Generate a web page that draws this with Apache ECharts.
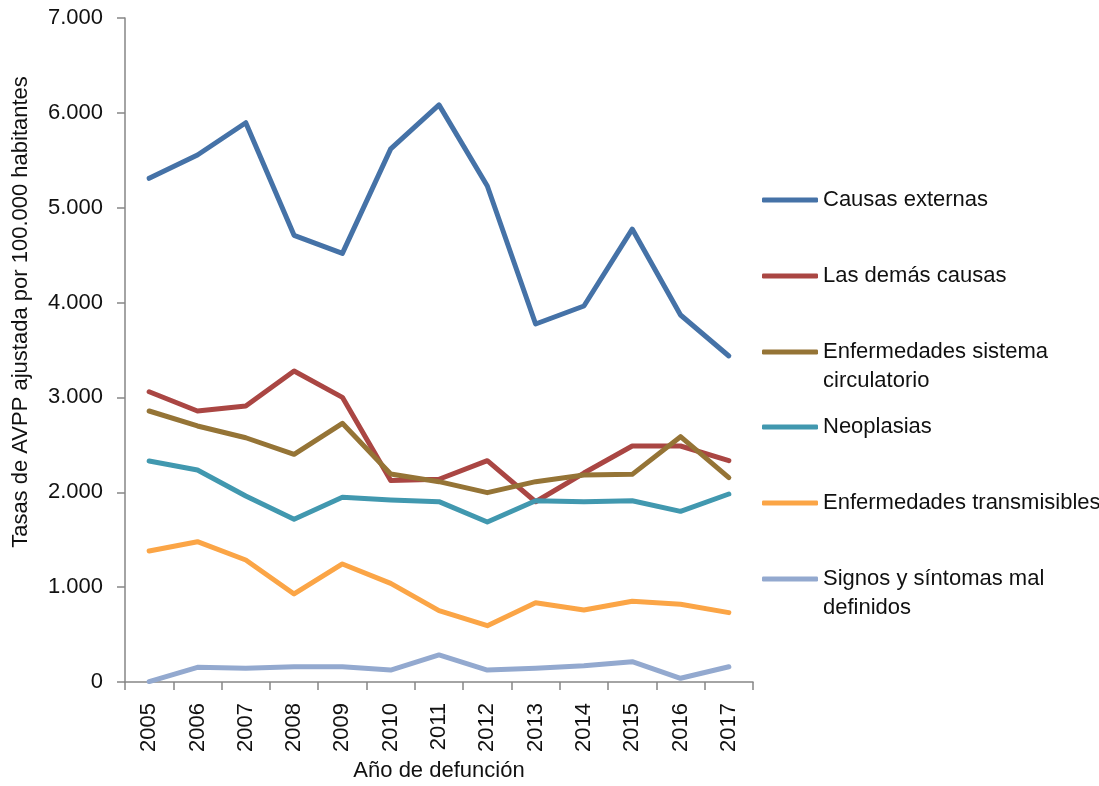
<!DOCTYPE html>
<html>
<head>
<meta charset="utf-8">
<script src="https://cdn.jsdelivr.net/npm/echarts@6/dist/echarts.min.js"></script>
<style>
  html, body { margin: 0; padding: 0; background: #fff; }
  #chart { width: 1099px; height: 786px; }
</style>
</head>
<body>
<div id="chart"></div>
<script>
var years = ["2005", "2006", "2007", "2008", "2009", "2010", "2011", "2012", "2013", "2014", "2015", "2016", "2017"];

var causasExternas = [5310, 5556, 5896, 4709, 4519, 5620, 6084, 5229, 3774, 3964, 4775, 3869, 3437];
var lasDemasCausas = [3060, 2857, 2910, 3278, 3001, 2125, 2137, 2333, 1900, 2203, 2488, 2488, 2333];
var sistemaCirculatorio = [2857, 2699, 2575, 2400, 2727, 2193, 2112, 1996, 2112, 2182, 2189, 2586, 2154];
var neoplasias = [2330, 2235, 1961, 1715, 1947, 1919, 1901, 1687, 1911, 1901, 1911, 1799, 1982];
var transmisibles = [1381, 1479, 1286, 928, 1244, 1040, 752, 594, 836, 759, 851, 819, 731];
var signos = [5, 155, 144, 161, 161, 126, 285, 126, 144, 172, 214, 39, 161];

var seriesNames = [
    "Causas externas",
    "Las demás causas",
    "Enfermedades sistema\ncirculatorio",
    "Neoplasias",
    "Enfermedades transmisibles",
    "Signos y síntomas mal\ndefinidos"
];
var seriesData = [causasExternas, lasDemasCausas, sistemaCirculatorio, neoplasias, transmisibles, signos];
var colors = ["#4572A7", "#AA4643", "#957436", "#4198AF", "#FBA546", "#93A9CF"];

var font = "'Liberation Sans', Arial, sans-serif";
var fontSize = 22;
var axisColor = "#868686";

// legend centres (y of the icon)
var legendCenters = [200, 276, 352, 427, 503, 579];

var legends = seriesNames.map(function (name, i) {
    var twoLines = name.indexOf("\n") >= 0;
    return {
        data: [name],
        left: 762,
        top: twoLines ? legendCenters[i] - 43.5 : legendCenters[i] - 14.5,
        padding: 0,
        icon: "roundRect",
        itemWidth: 56,
        itemHeight: 5,
        itemGap: 0,
        selectedMode: false,
        // empty first line so the first text line sits on the icon
        formatter: function (n) { return n.indexOf("\n") >= 0 ? "\n" + n : n; },
        textStyle: {
            fontFamily: font,
            fontSize: fontSize,
            color: "#111",
            lineHeight: 29
        }
    };
});

var chart = echarts.init(document.getElementById("chart"));
var option = {
    animation: false,
    color: colors,
    grid: { left: 125, right: 346, top: 18, bottom: 104, containLabel: false, outerBoundsMode: "none" },
    legend: legends,
    xAxis: {
        type: "category",
        data: years,
        boundaryGap: true,
        name: "Año de defunción",
        nameLocation: "middle",
        nameGap: 78,
        nameTextStyle: { fontFamily: font, fontSize: fontSize, color: "#111" },
        axisLine: { lineStyle: { color: axisColor, width: 1.5 } },
        axisTick: { show: true, interval: 0, length: 8, lineStyle: { color: axisColor, width: 1.5 } },
        axisLabel: { rotate: 90, interval: 0, margin: 21, fontFamily: font, fontSize: fontSize, color: "#111" },
        splitLine: { show: false }
    },
    yAxis: {
        type: "value",
        min: 0,
        max: 7000,
        interval: 1000,
        axisLine: { show: true, lineStyle: { color: axisColor, width: 1.5 } },
        axisTick: { show: true, length: 8, lineStyle: { color: axisColor, width: 1.5 } },
        axisLabel: {
            margin: 22,
            fontFamily: font,
            fontSize: fontSize,
            color: "#111",
            formatter: function (v) {
                return String(v).replace(/\B(?=(\d{3})+(?!\d))/g, ".");
            }
        },
        splitLine: { show: false }
    },
    graphic: [{
        type: "text",
        x: 21,
        y: 312,
        rotation: Math.PI / 2,
        style: {
            text: "Tasas de AVPP ajustada por 100.000 habitantes",
            fontFamily: font,
            fontSize: fontSize,
            fill: "#111",
            align: "center",
            verticalAlign: "middle"
        }
    }],
    series: seriesNames.map(function (name, i) {
        return {
            name: name,
            type: "line",
            data: seriesData[i],
            symbol: "none",
            lineStyle: { width: 5, cap: "round", join: "round" }
        };
    })
};
chart.setOption(option);
</script>
</body>
</html>
